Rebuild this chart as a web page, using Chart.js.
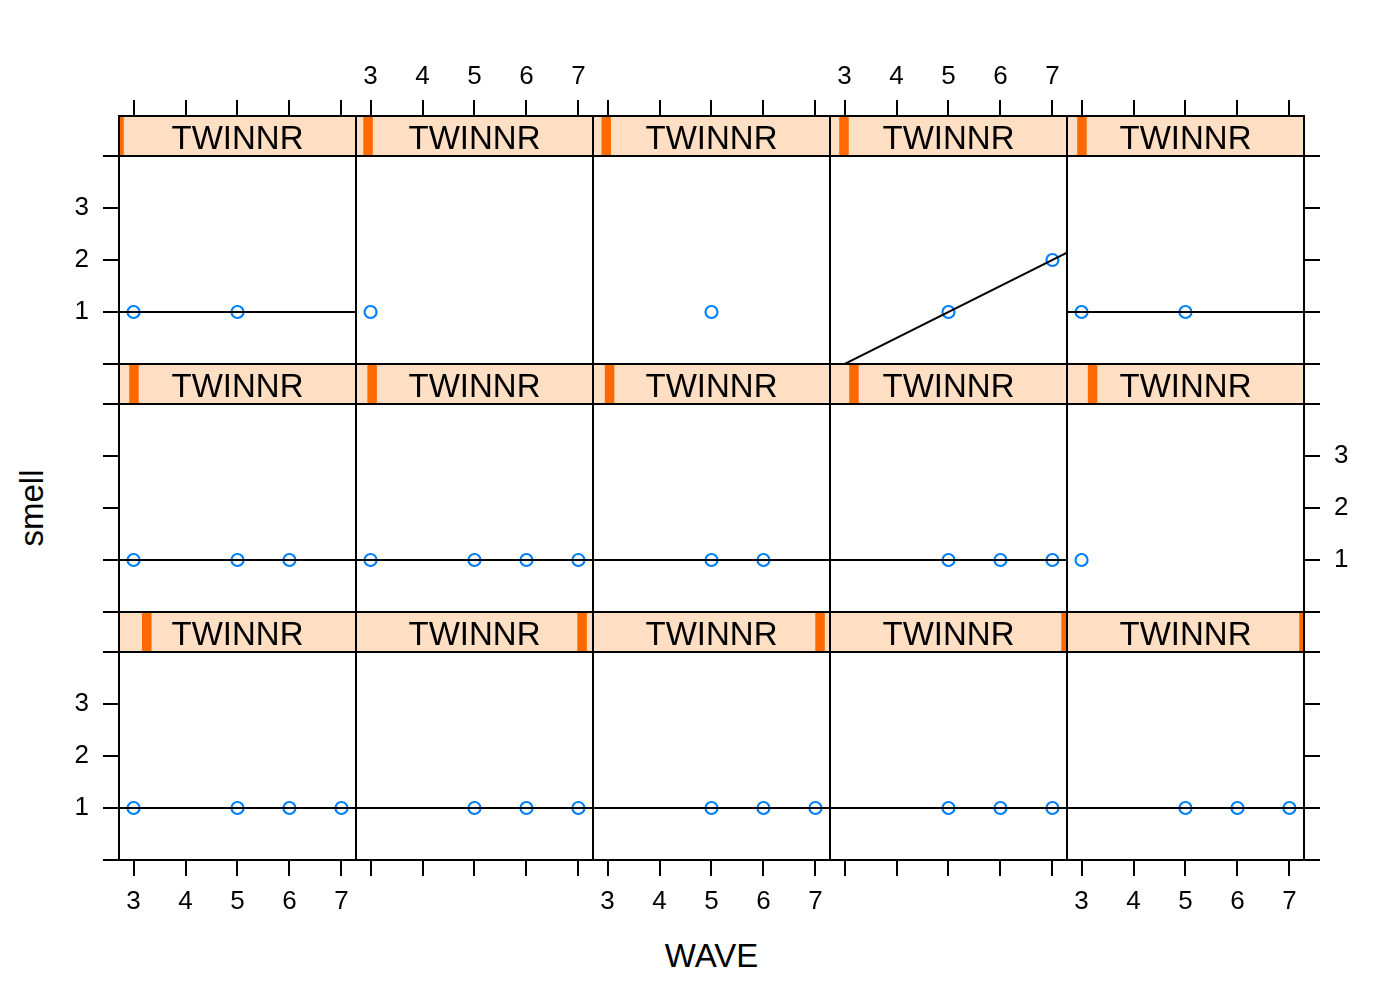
<!DOCTYPE html>
<html>
<head>
<meta charset="utf-8">
<script src="https://cdn.jsdelivr.net/npm/chart.js@4.4.1/dist/chart.umd.min.js"></script>
<style>
  html, body { margin: 0; padding: 0; background: #ffffff; }
  #wrap { position: relative; width: 1400px; height: 1000px; overflow: hidden; background: #ffffff; }
  canvas { position: absolute; }
  .title { position: absolute; font-family: "Liberation Sans", Arial, Helvetica, sans-serif; font-size: 33px; color: #000; text-align: center; white-space: nowrap; height: 40px; line-height: 40px; width: 200px; }
</style>
</head>
<body>
<div id="wrap">
  <div class="title" id="xtitle">WAVE</div>
  <div class="title" id="ytitle">smell</div>
</div>
<script>
// ---------------- data (panels in display order: top row left→right, then middle, then bottom) ----------------
const stripLabel = "TWINNR";
const xTickValues = [3, 4, 5, 6, 7];
const yTickValues = [0, 1, 2, 3, 4];
const yTickLabels = ["", "1", "2", "3", ""];

const panelWave = [
  [3, 5], [3], [5], [5, 7], [3, 5],
  [3, 5, 6], [3, 5, 6, 7], [5, 6], [5, 6, 7], [3],
  [3, 5, 6, 7], [5, 6, 7], [5, 6, 7], [5, 6, 7], [5, 6, 7]
];
const panelSmell = [
  [1, 1], [1], [1], [1, 2], [1, 1],
  [1, 1, 1], [1, 1, 1, 1], [1, 1], [1, 1, 1], [1],
  [1, 1, 1, 1], [1, 1, 1], [1, 1, 1], [1, 1, 1], [1, 1, 1]
];
// relative position of each panel's TWINNR level inside its strip (0 = left, 1 = right)
const stripLevel = [
  0.000, 0.051, 0.056, 0.059, 0.063,
  0.063, 0.068, 0.070, 0.101, 0.108,
  0.117, 0.954, 0.958, 0.996, 1.000
];

// ---------------- layout / style ----------------
const FONT = '"Liberation Sans", Arial, Helvetica, sans-serif';
const NCOL = 5, NROW = 3;
const PW = 237, PH = 208, STRIP_H = 40;
const X0 = 119;
const ROW_TOPS = [156, 404, 652];
const ML = 80, MR = 80, MT = 120, MB = 80;
const X_MIN = 2.72, X_MAX = 7.28, Y_MIN = 0, Y_MAX = 4;
const STRIP_BG = '#ffdfc3';
const SHINGLE = '#ff6a00';
const POINT_COL = '#0080ff';

const wrap = document.getElementById('wrap');

function lmFit(xs, ys) {
  const n = xs.length;
  const distinct = new Set(xs).size;
  if (n < 2 || distinct < 2) return null;
  const mx = xs.reduce((a, b) => a + b, 0) / n;
  const my = ys.reduce((a, b) => a + b, 0) / n;
  let sxy = 0, sxx = 0;
  for (let i = 0; i < n; i++) { sxy += (xs[i] - mx) * (ys[i] - my); sxx += (xs[i] - mx) * (xs[i] - mx); }
  const b = sxy / sxx;
  return { a: my - b * mx, b };
}

function makeStripPlugin(level) {
  return {
    id: 'latticeStrip',
    afterDraw(chart) {
      const ctx = chart.ctx;
      const a = chart.chartArea;
      const w = a.right - a.left;
      const top = a.top - STRIP_H;
      ctx.save();
      ctx.fillStyle = STRIP_BG;
      ctx.fillRect(a.left, top, w, STRIP_H);
      ctx.beginPath();
      ctx.rect(a.left, top, w, STRIP_H);
      ctx.clip();
      const cx = a.left + level * w;
      ctx.fillStyle = SHINGLE;
      ctx.fillRect(cx - 4.75, top, 9.5, STRIP_H);
      ctx.restore();

      ctx.save();
      ctx.fillStyle = '#000';
      ctx.font = '33px ' + FONT;
      ctx.textAlign = 'center';
      ctx.textBaseline = 'alphabetic';
      ctx.fillText(stripLabel, a.left + w / 2, top + 32.5);
      ctx.strokeStyle = '#000';
      ctx.lineWidth = 2;
      ctx.strokeRect(a.left, top, w, STRIP_H);
      ctx.strokeRect(a.left, a.top, w, a.bottom - a.top);
      ctx.restore();
    }
  };
}

for (let r = 0; r < NROW; r++) {
  for (let c = 0; c < NCOL; c++) {
    const idx = r * NCOL + c;
    const canvas = document.createElement('canvas');
    const cw = PW + ML + MR, ch = PH + MT + MB;
    canvas.width = cw; canvas.height = ch;
    canvas.style.width = cw + 'px'; canvas.style.height = ch + 'px';
    canvas.style.left = (X0 + c * PW - ML) + 'px';
    canvas.style.top = (ROW_TOPS[r] - MT) + 'px';
    wrap.appendChild(canvas);

    const xs = panelWave[idx], ys = panelSmell[idx];
    const pts = xs.map((x, i) => ({ x, y: ys[i] }));
    const fit = lmFit(xs, ys);
    const datasets = [];
    if (fit) {
      datasets.push({
        type: 'line',
        data: [{ x: X_MIN, y: fit.a + fit.b * X_MIN }, { x: X_MAX, y: fit.a + fit.b * X_MAX }],
        borderColor: '#000', borderWidth: 2, pointRadius: 0, fill: false, tension: 0
      });
    }
    datasets.push({
      type: 'scatter',
      data: pts,
      pointStyle: 'circle', pointRadius: 6, borderWidth: 2.2,
      borderColor: POINT_COL, backgroundColor: 'rgba(0,0,0,0)'
    });

    const showX = (r === 0 || r === NROW - 1);
    const xTop = (r === 0);
    const xLabels = xTop ? (c % 2 === 1) : (c % 2 === 0);
    const showY = (c === 0 || c === NCOL - 1);
    const yLeft = (c === 0);
    const yLabels = yLeft ? (r % 2 === 0) : (r % 2 === 1);

    new Chart(canvas, {
      type: 'scatter',
      data: { datasets },
      options: {
        responsive: false,
        animation: false,
        devicePixelRatio: 1,
        events: [],
        layout: {
          autoPadding: false,
          padding: {
            left: (showY && yLeft) ? 0 : ML,
            right: (showY && !yLeft) ? 0 : MR,
            top: (showX && xTop) ? 0 : MT,
            bottom: (showX && !xTop) ? 0 : MB
          }
        },
        plugins: { legend: { display: false }, tooltip: { enabled: false }, title: { display: false } },
        scales: {
          x: {
            type: 'linear', min: X_MIN, max: X_MAX,
            display: showX,
            position: xTop ? 'top' : 'bottom',
            afterBuildTicks: (axis) => { axis.ticks = xTickValues.map(v => ({ value: v })); },
            afterFit: (s) => { s.height = showX ? (xTop ? MT : MB) : 0; },
            ticks: {
              display: xLabels, color: '#000', padding: xTop ? 8 : 10, autoSkip: false, maxRotation: 0,
              font: { family: FONT, size: 26 },
              callback: (v) => String(v)
            },
            grid: { drawOnChartArea: false, drawTicks: true, tickLength: xTop ? 56 : 16, color: '#000', lineWidth: 2 },
            border: { display: false }
          },
          y: {
            type: 'linear', min: Y_MIN, max: Y_MAX,
            display: showY,
            position: yLeft ? 'left' : 'right',
            afterBuildTicks: (axis) => { axis.ticks = yTickValues.map(v => ({ value: v })); },
            afterFit: (s) => { s.width = showY ? (yLeft ? ML : MR) : 0; },
            ticks: {
              display: yLabels, color: '#000', padding: 14, autoSkip: false,
              font: { family: FONT, size: 26 },
              callback: (v) => { const i = yTickValues.indexOf(v); return i >= 0 ? yTickLabels[i] : ''; }
            },
            grid: { drawOnChartArea: false, drawTicks: true, tickLength: 16, color: '#000', lineWidth: 2 },
            border: { display: false }
          }
        }
      },
      plugins: [makeStripPlugin(stripLevel[idx])]
    });
  }
}

// axis titles
const xt = document.getElementById('xtitle');
xt.style.left = (711.5 - 100) + 'px';
xt.style.top = '936px';
const yt = document.getElementById('ytitle');
yt.style.left = (31.5 - 100) + 'px';
yt.style.top = (508 - 20) + 'px';
yt.style.transform = 'rotate(-90deg)';
</script>
</body>
</html>
